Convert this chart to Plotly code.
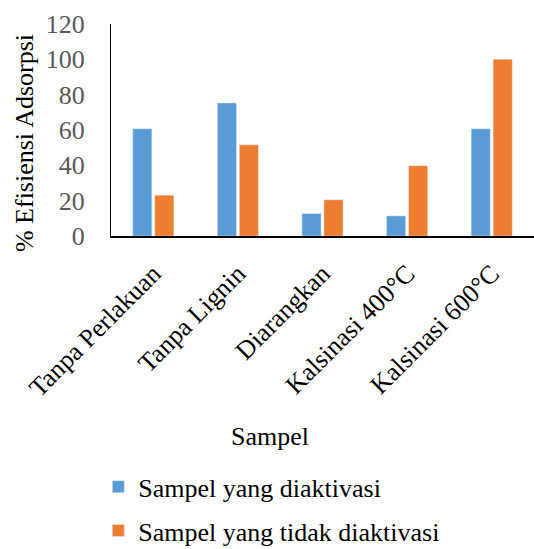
import plotly.graph_objects as go

# Adsorption efficiency per sample treatment
categories = ["Tanpa Perlakuan", "Tanpa Lignin", "Diarangkan", "Kalsinasi 400°C", "Kalsinasi 600°C"]
activated = [60.7, 75.3, 12.7, 11.4, 60.7]
not_activated = [23.1, 51.6, 20.5, 39.8, 100.0]
series_names = ["Sampel yang diaktivasi", "Sampel yang tidak diaktivasi"]
y_ticks = [0, 20, 40, 60, 80, 100, 120]

FONT = "Liberation Serif, Times New Roman, serif"
FS = 26

fig = go.Figure()
fig.add_trace(go.Bar(x=categories, y=activated, name=series_names[0],
                     marker_color="#5B9BD5", legendgroup="a"))
fig.add_trace(go.Bar(x=categories, y=not_activated, name=series_names[1],
                     marker_color="#ED7D31", legendgroup="b"))

title_font = dict(family=FONT, size=FS, color="black")

fig.update_layout(
    width=534, height=549,
    margin=dict(l=111, r=0, t=24, b=313, autoexpand=False),
    paper_bgcolor="white", plot_bgcolor="white",
    font=dict(family=FONT, size=FS, color="black"),
    barmode="group", bargap=0.48, bargroupgap=0.13,
    showlegend=True,
    legend=dict(orientation="v", x=-0.03, y=-1.072, xanchor="left", yanchor="top",
                font=dict(family=FONT, size=FS, color="black"),
                tracegroupgap=7, traceorder="grouped",
                itemwidth=30),
    annotations=[
        dict(text="Sampel", xref="paper", yref="paper", x=0.376, y=-0.948,
             xanchor="center", yanchor="middle", showarrow=False, font=title_font),
        dict(text="% Efisiensi Adsorpsi", xref="paper", yref="paper", x=-0.203, y=0.439,
             xanchor="center", yanchor="middle", textangle=-90, showarrow=False,
             font=title_font),
    ],
)
fig.update_yaxes(
    range=[0, 120], tickvals=y_ticks, showgrid=False, zeroline=False,
    showline=True, linecolor="black", linewidth=1, automargin=False,
    ticklabelstandoff=20,
    tickfont=dict(family=FONT, size=FS, color="#595959"),
)
fig.update_xaxes(
    showgrid=False, showline=True, linecolor="black", linewidth=2, automargin=False,
    tickangle=-45, ticks="", ticklabelstandoff=10,
    tickfont=dict(family=FONT, size=FS, color="black"),
)

fig.write_html("out.html")
